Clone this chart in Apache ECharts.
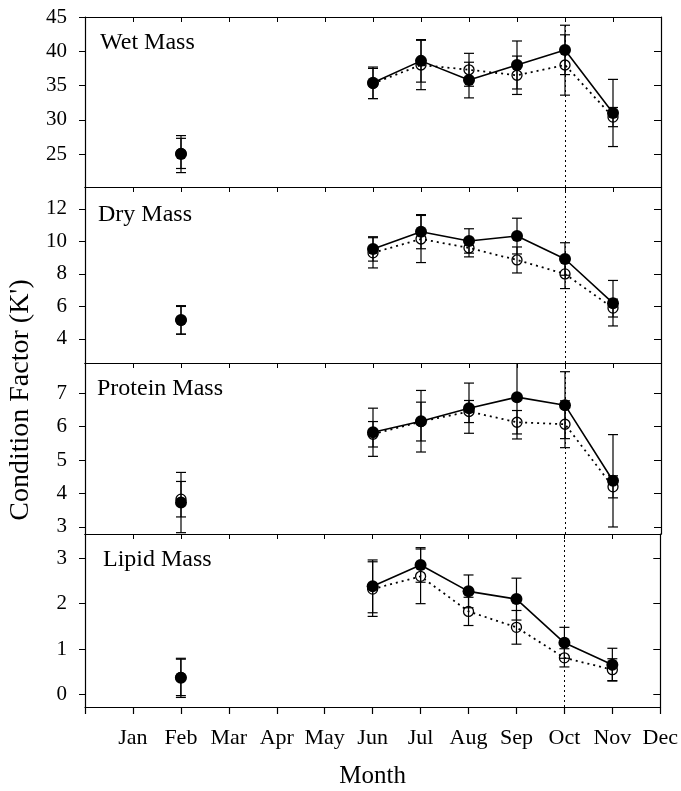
<!DOCTYPE html>
<html>
<head>
<meta charset="utf-8">
<script src="https://cdn.jsdelivr.net/npm/echarts@6/dist/echarts.min.js"></script>
<style>
  html, body { margin: 0; padding: 0; background: #fff; }
  #main { width: 681px; height: 791px; }
</style>
</head>
<body>
<div id="main"></div>
<script>
  // months on the x axis, and the months that were sampled
  const months = ['Jan', 'Feb', 'Mar', 'Apr', 'May', 'Jun', 'Jul', 'Aug', 'Sep', 'Oct', 'Nov', 'Dec'];
  const sampleMonths = [2, 6, 7, 8, 9, 10, 11];
  const dividerMonth = 10;

  // filled circles (solid line) and open circles (dotted line), with +/- errors
  const wetFilled = [25.0, 35.4, 38.6, 35.8, 38.0, 40.2, 31.0];
  const wetFilledErr = [2.7, 2.3, 3.1, 2.6, 3.5, 3.6, 4.9];
  const wetOpen = [25.1, 35.3, 38.0, 37.3, 36.5, 38.0, 30.4];
  const wetOpenErr = [2.2, 2.2, 3.6, 2.4, 2.8, 4.4, 1.4];

  const dryFilled = [5.17, 9.54, 10.6, 10.03, 10.33, 8.92, 6.2];
  const dryFilledErr = [0.88, 0.75, 1.05, 0.75, 1.1, 1.0, 1.4];
  const dryOpen = [5.15, 9.3, 10.15, 9.6, 8.86, 8.0, 5.9];
  const dryOpenErr = [0.85, 0.93, 1.45, 0.55, 0.8, 0.9, 0.55];

  const protFilled = [3.73, 5.83, 6.16, 6.55, 6.88, 6.64, 4.38];
  const protFilledErr = [0.9, 0.72, 0.92, 0.75, 1.25, 1.0, 1.38];
  const protOpen = [3.83, 5.77, 6.15, 6.45, 6.13, 6.07, 4.2];
  const protOpenErr = [0.53, 0.38, 0.58, 0.33, 0.35, 0.7, 0.33];

  const lipFilled = [0.37, 2.38, 2.85, 2.27, 2.1, 1.14, 0.66];
  const lipFilledErr = [0.43, 0.58, 0.38, 0.36, 0.46, 0.34, 0.36];
  const lipOpen = [0.38, 2.32, 2.6, 1.83, 1.48, 0.81, 0.55];
  const lipOpenErr = [0.4, 0.6, 0.6, 0.31, 0.37, 0.2, 0.24];

  // y tick labels
  const wetTicks = [25, 30, 35, 40, 45];
  const dryTicks = [4, 6, 8, 10, 12];
  const protTicks = [3, 4, 5, 6, 7];
  const lipTicks = [0, 1, 2, 3];
  const monthTicks = [1, 2, 3, 4, 5, 6, 7, 8, 9, 10, 11, 12];

  const FONT = '"Liberation Serif", "Times New Roman", serif';

  const panels = [
    {name: 'Wet Mass', top: 17, height: 170, min: 20.2, max: 45, ticks: wetTicks,
     filled: wetFilled, filledErr: wetFilledErr, open: wetOpen, openErr: wetOpenErr, labelTop: 31, labelLeft: 100},
    {name: 'Dry Mass', top: 187, height: 176, min: 2.52, max: 13.35, ticks: dryTicks,
     filled: dryFilled, filledErr: dryFilledErr, open: dryOpen, openErr: dryOpenErr, labelTop: 203, labelLeft: 98},
    {name: 'Protein Mass', top: 363, height: 171, min: 2.79, max: 7.9, ticks: protTicks,
     filled: protFilled, filledErr: protFilledErr, open: protOpen, openErr: protOpenErr, labelTop: 377, labelLeft: 97},
    {name: 'Lipid Mass', top: 534, height: 173, min: -0.27, max: 3.53, ticks: lipTicks,
     filled: lipFilled, filledErr: lipFilledErr, open: lipOpen, openErr: lipOpenErr, labelTop: 548, labelLeft: 103}
  ];

  function errorBar(params, api) {
    const x = api.value(0), y = api.value(1), e = api.value(2);
    const hi = api.coord([x, y + e]);
    const lo = api.coord([x, y - e]);
    const w = 5;
    const st = {stroke: '#000', lineWidth: 1.2};
    return {
      type: 'group',
      children: [
        {type: 'line', shape: {x1: hi[0], y1: hi[1], x2: lo[0], y2: lo[1]}, style: st},
        {type: 'line', shape: {x1: hi[0] - w, y1: hi[1], x2: hi[0] + w, y2: hi[1]}, style: st},
        {type: 'line', shape: {x1: lo[0] - w, y1: lo[1], x2: lo[0] + w, y2: lo[1]}, style: st}
      ]
    };
  }

  const grids = [], xAxes = [], yAxes = [], series = [], titles = [];
  const last = panels.length - 1;

  panels.forEach(function (p, i) {
    grids.push({left: 85, right: 20, top: p.top, height: p.height});
    titles.push({text: p.name, left: p.labelLeft, top: p.labelTop, padding: 0,
      textStyle: {fontFamily: FONT, fontSize: 24, fontWeight: 'normal', color: '#000'}});

    // bottom x axis
    xAxes.push({
      type: 'value', gridIndex: i, min: 0, max: 12, position: 'bottom',
      axisLine: {show: true, onZero: false, lineStyle: {color: '#000', width: 1.2}},
      axisTick: {show: i === last, inside: false, length: 7, customValues: [0].concat(monthTicks),
        lineStyle: {color: '#000', width: 1.2}},
      axisLabel: {show: i === last, customValues: monthTicks, margin: 20,
        formatter: function (v) { return months[v - 1] || ''; },
        fontFamily: FONT, fontSize: 22, color: '#000'},
      splitLine: {show: false},
      name: i === last ? 'Month' : '', nameLocation: 'middle', nameGap: 57,
      nameTextStyle: {fontFamily: FONT, fontSize: 25, color: '#000'}
    });
    // top x axis: inward ticks only
    xAxes.push({
      type: 'value', gridIndex: i, min: 0, max: 12, position: 'top',
      axisLine: {show: true, onZero: false, lineStyle: {color: '#000', width: 1.2}},
      axisTick: {show: true, inside: true, length: 5, customValues: monthTicks, lineStyle: {color: '#000'}},
      axisLabel: {show: false},
      splitLine: {show: false}
    });
    // left y axis
    yAxes.push({
      type: 'value', gridIndex: i, min: p.min, max: p.max, position: 'left',
      axisLine: {show: true, onZero: false, lineStyle: {color: '#000', width: 1.2}},
      axisTick: {show: true, inside: false, length: 6, customValues: p.ticks, lineStyle: {color: '#000'}},
      axisLabel: {show: true, customValues: p.ticks, margin: 18,
        fontFamily: FONT, fontSize: 21, color: '#000'},
      splitLine: {show: false}
    });
    // right y axis: inward ticks only
    yAxes.push({
      type: 'value', gridIndex: i, min: p.min, max: p.max, position: 'right',
      axisLine: {show: true, onZero: false, lineStyle: {color: '#000', width: 1.2}},
      axisTick: {show: true, inside: true, length: 7, customValues: p.ticks, lineStyle: {color: '#000'}},
      axisLabel: {show: false},
      splitLine: {show: false}
    });

    const xi = i * 2, yi = i * 2;
    const openErrData = sampleMonths.map(function (m, k) { return [m, p.open[k], p.openErr[k]]; });
    const filledErrData = sampleMonths.map(function (m, k) { return [m, p.filled[k], p.filledErr[k]]; });

    series.push({
      type: 'custom', xAxisIndex: xi, yAxisIndex: yi, clip: true,
      renderItem: errorBar, data: openErrData, silent: true, z: 2
    });
    series.push({
      type: 'custom', xAxisIndex: xi, yAxisIndex: yi, clip: true,
      renderItem: errorBar, data: filledErrData, silent: true, z: 2
    });
    series.push({
      type: 'line', xAxisIndex: xi, yAxisIndex: yi, z: 3,
      data: sampleMonths.slice(1).map(function (m, k) { return [m, p.open[k + 1]]; }),
      symbol: 'circle', symbolSize: 10,
      itemStyle: {color: 'rgba(255,255,255,0)', borderColor: '#000', borderWidth: 1.3, opacity: 1},
      lineStyle: {color: '#000', width: 1.8, type: [2, 4]}
    });
    series.push({
      type: 'scatter', xAxisIndex: xi, yAxisIndex: yi, z: 3,
      data: [[sampleMonths[0], p.open[0]]],
      symbol: 'circle', symbolSize: 10,
      itemStyle: {color: 'rgba(255,255,255,0)', borderColor: '#000', borderWidth: 1.3, opacity: 1}
    });
    series.push({
      type: 'line', xAxisIndex: xi, yAxisIndex: yi, z: 4,
      data: sampleMonths.slice(1).map(function (m, k) { return [m, p.filled[k + 1]]; }),
      symbol: 'circle', symbolSize: 12,
      itemStyle: {color: '#000', opacity: 1},
      lineStyle: {color: '#000', width: 1.6},
      markLine: {
        silent: true, symbol: 'none', label: {show: false},
        lineStyle: {color: '#000', width: 1, type: [2, 3]},
        data: [{xAxis: dividerMonth}]
      }
    });
    series.push({
      type: 'scatter', xAxisIndex: xi, yAxisIndex: yi, z: 4,
      data: [[sampleMonths[0], p.filled[0]]],
      symbol: 'circle', symbolSize: 12,
      itemStyle: {color: '#000', opacity: 1}
    });
  });

  const chart = echarts.init(document.getElementById('main'), null, {renderer: 'canvas'});
  chart.setOption({
    backgroundColor: '#fff',
    animation: false,
    title: titles,
    grid: grids,
    xAxis: xAxes,
    yAxis: yAxes,
    series: series,
    graphic: [{
      type: 'text', x: 21, y: 400, rotation: Math.PI / 2,
      style: {text: "Condition Factor (K')", font: '28px ' + FONT, fill: '#000',
        align: 'center', verticalAlign: 'middle'}
    }]
  });
</script>
</body>
</html>
